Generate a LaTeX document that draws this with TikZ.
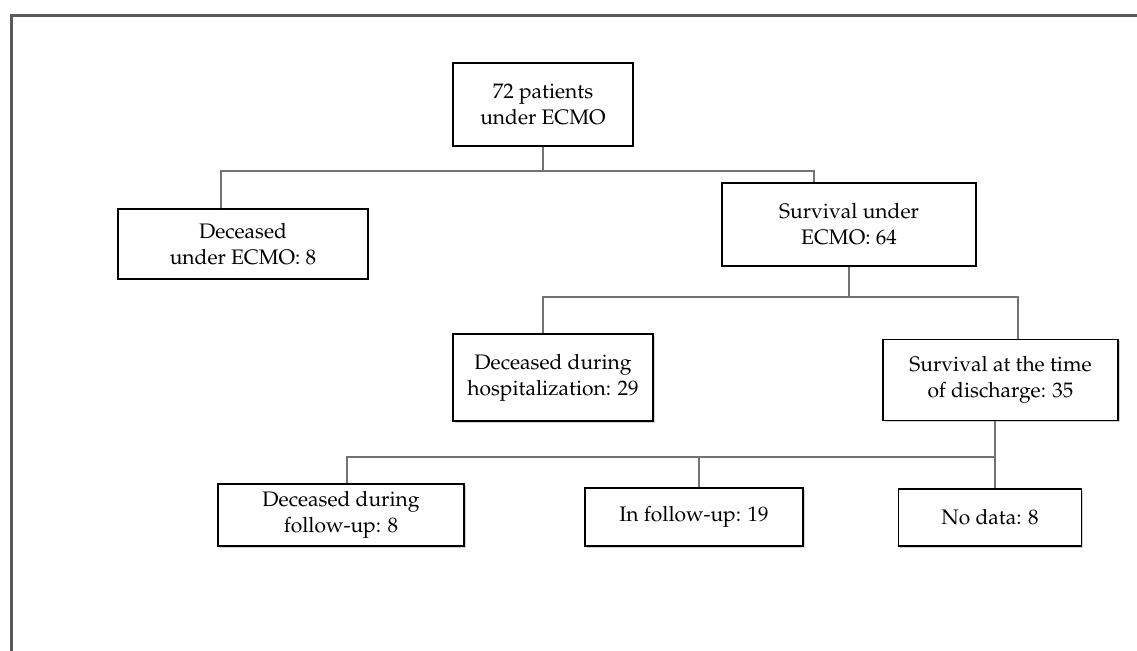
\documentclass[tikz,border=0pt]{standalone}
\usepackage[T1]{fontenc}
\usepackage{mathpazo}
\usetikzlibrary{shadows}
\begin{document}
\begin{tikzpicture}[x=0.5pt, y=-0.5pt,
  box/.style={draw=black, line width=0.65pt, fill=white, align=center, inner sep=0pt,
    font=\fontsize{10.5}{13}\selectfont},
  shbox/.style={box, drop shadow={shadow xshift=0.8pt, shadow yshift=-0.8pt, fill=black!35}},
  link/.style={draw=black!55, line width=0.75pt},
  frame/.style={draw=black!65, line width=1.5pt}]
\useasboundingbox (0,0) rectangle (1137,650);
\draw[frame] (11,651) -- (11,15) -- (1138,15);

% boxes
\node[box, minimum width=90pt, minimum height=41.5pt] (total) at (543,104.5) {72 patients\\under ECMO};
\node[box, minimum width=125pt, minimum height=35pt] (deadecmo) at (243,244) {Deceased\\under ECMO: 8};
\node[box, minimum width=127pt, minimum height=41.5pt] (survecmo) at (849,224.5) {Survival under\\ECMO: 64};
\node[shbox, minimum width=100pt, minimum height=43.5pt] (deadhosp) at (553,377.5) {Deceased during\\hospitalization: 29};
\node[shbox, minimum width=117.5pt, minimum height=40.5pt] (survdis) at (1000.5,380) {Survival at the time\\of discharge: 35};
\node[shbox, minimum width=123pt, minimum height=31pt] (deadfup) at (341,515) {Deceased during\\follow-up: 8};
\node[shbox, minimum width=109pt, minimum height=29pt] (infup) at (694,517) {In follow-up: 19};
\node[shbox, minimum width=91.5pt, minimum height=28.5pt] (nodata) at (990,517.5) {No data: 8};

% branch bars
\coordinate (bar1l) at (221,171);
\coordinate (bar1r) at (814,171);
\coordinate (bar2l) at (543,297);
\coordinate (bar2r) at (1018,297);
\coordinate (bar3l) at (347,457);
\coordinate (bar3m) at (699,457);
\coordinate (bar3r) at (995,457);

\draw[link] (total.south) -- (total |- bar1l);
\draw[link] (deadecmo.north -| bar1l) -- (bar1l) -- (bar1r) -- (survecmo.north -| bar1r);
\draw[link] (survecmo.south) -- (survecmo |- bar2l);
\draw[link] (deadhosp.north -| bar2l) -- (bar2l) -- (bar2r) -- (survdis.north -| bar2r);
\draw[link] (survdis.south -| bar3r) -- (bar3r);
\draw[link] (deadfup.north -| bar3l) -- (bar3l) -- (bar3r) -- (nodata.north -| bar3r);
\draw[link] (bar3m) -- (infup.north -| bar3m);

\end{tikzpicture}
\end{document}
